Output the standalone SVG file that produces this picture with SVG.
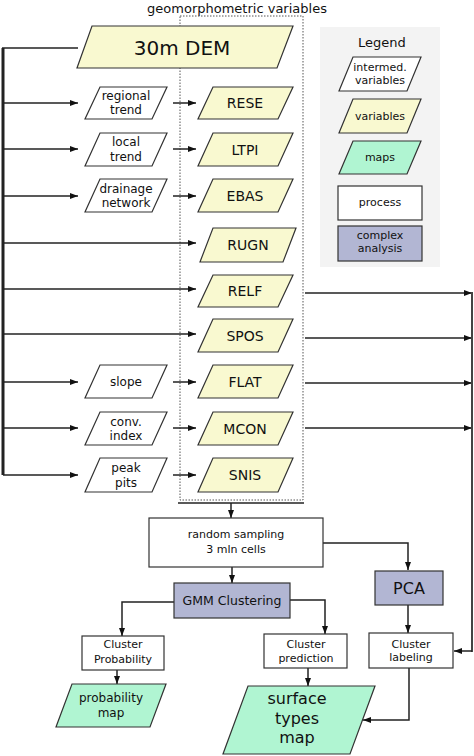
<svg xmlns="http://www.w3.org/2000/svg" width="474" height="756" viewBox="0 0 474 756">
<style>
text{font-family:"DejaVu Sans","Liberation Sans",sans-serif;fill:#111;text-anchor:middle}
.iv{fill:#fff;stroke:#333;stroke-width:1.2}
.v{fill:#f9f9d0;stroke:#333;stroke-width:1.2}
.m{fill:#b0f5d2;stroke:#333;stroke-width:1.2}
.p{fill:#fff;stroke:#333;stroke-width:1.2}
.c{fill:#b2b6d3;stroke:#333;stroke-width:1.2}
.ln{fill:none;stroke:#222;stroke-width:1.5}
.f12{font-size:12px}.f11{font-size:11px}.f14{font-size:14px}.f16{font-size:16px}
</style>
<defs>
<marker id="ah" markerWidth="8" markerHeight="6" refX="8" refY="3" orient="auto" markerUnits="userSpaceOnUse"><path d="M0,0 L8,3 L0,6 z" fill="#111"/></marker>
</defs>
<text x="237" y="13" style="font-size:13px">geomorphometric variables</text>
<rect id="group-box" x="180" y="16" width="123" height="484" fill="none" stroke="#555" stroke-width="1" stroke-dasharray="1.5,1.5"/>
<g id="legend">
<rect x="320" y="27" width="120" height="240" fill="#f3f3f3"/>
<text x="382" y="47" style="font-size:13px">Legend</text>
<polygon class="iv" points="353,57 421,57 407,91 339,91"/>
<text class="f11" x="380" y="71">intermed.</text><text class="f11" x="380" y="84">variables</text>
<polygon class="v" points="353,99 421,99 407,133 339,133"/>
<text class="f11" x="380" y="120">variables</text>
<polygon class="m" points="353,141 421,141 407,174 339,174"/>
<text class="f11" x="380" y="161">maps</text>
<rect class="p" x="338" y="186" width="84" height="34"/>
<text class="f11" x="380" y="206">process</text>
<rect class="c" x="338" y="226" width="84" height="35"/>
<text class="f11" x="380" y="239">complex</text><text class="f11" x="380" y="252">analysis</text>
</g>
<g id="connectors">
<path d="M3,48 V475" fill="none" stroke="#222" stroke-width="3"/>
<path class="ln" d="M2,48 H78"/>
<path class="ln" d="M3,103 H78" marker-end="url(#ah)"/>
<path class="ln" d="M3,149 H78" marker-end="url(#ah)"/>
<path class="ln" d="M3,196 H78" marker-end="url(#ah)"/>
<path class="ln" d="M3,243 H196" marker-end="url(#ah)"/>
<path class="ln" d="M3,289 H196" marker-end="url(#ah)"/>
<path class="ln" d="M3,334 H196" marker-end="url(#ah)"/>
<path class="ln" d="M3,382 H78" marker-end="url(#ah)"/>
<path class="ln" d="M3,428 H78" marker-end="url(#ah)"/>
<path class="ln" d="M3,475 H78" marker-end="url(#ah)"/>
<path class="ln" d="M173,103 H196" marker-end="url(#ah)"/>
<path class="ln" d="M173,149 H196" marker-end="url(#ah)"/>
<path class="ln" d="M173,196 H196" marker-end="url(#ah)"/>
<path class="ln" d="M173,382 H196" marker-end="url(#ah)"/>
<path class="ln" d="M173,428 H196" marker-end="url(#ah)"/>
<path class="ln" d="M173,475 H196" marker-end="url(#ah)"/>
<path class="ln" d="M305,293 H472" marker-end="url(#ah)"/>
<path class="ln" d="M305,338 H472" marker-end="url(#ah)"/>
<path class="ln" d="M305,383 H472" marker-end="url(#ah)"/>
<path class="ln" d="M305,428 H472" marker-end="url(#ah)"/>
<path d="M472,292 V652" fill="none" stroke="#444" stroke-width="2"/>
<path class="ln" d="M472,651 H454" marker-end="url(#ah)"/>
<path class="ln" d="M178,503 H304"/>
<path class="ln" d="M231,503 V518" marker-end="url(#ah)"/>
<path class="ln" d="M323,543 H408 V570" marker-end="url(#ah)"/>
<path class="ln" d="M232,567 V583" marker-end="url(#ah)"/>
<path class="ln" d="M174,602 H122 V636" marker-end="url(#ah)"/>
<path class="ln" d="M290,600 H325 V634" marker-end="url(#ah)"/>
<path class="ln" d="M117,670 V684" marker-end="url(#ah)"/>
<path class="ln" d="M308,668 V686" marker-end="url(#ah)"/>
<path class="ln" d="M408,605 V633" marker-end="url(#ah)"/>
<path class="ln" d="M409,668 V720 H363" marker-end="url(#ah)"/>
</g>
<g id="dem"><polygon class="v" points="92,26 293,26 277,68 77,68"/><text x="182" y="55" style="font-size:20px">30m DEM</text></g>
<g id="regional-trend"><polygon class="iv" points="100,87 167,87 152,119 85,119"/><text class="f12" x="126" y="100">regional</text><text class="f12" x="126" y="114">trend</text></g>
<g id="local-trend"><polygon class="iv" points="100,133 167,133 152,166 85,166"/><text class="f12" x="126" y="146">local</text><text class="f12" x="126" y="160.5">trend</text></g>
<g id="drainage-network"><polygon class="iv" points="100,179 167,179 152,212 85,212"/><text class="f12" x="126" y="192.5">drainage</text><text class="f12" x="126" y="207">network</text></g>
<g id="slope"><polygon class="iv" points="100,365 167,365 152,398 85,398"/><text class="f12" x="126" y="385.5">slope</text></g>
<g id="conv-index"><polygon class="iv" points="100,412 167,412 152,445 85,445"/><text class="f12" x="126" y="425.5">conv.</text><text class="f12" x="126" y="440">index</text></g>
<g id="peak-pits"><polygon class="iv" points="100,458 167,458 152,492 85,492"/><text class="f12" x="126" y="472">peak</text><text class="f12" x="126" y="486.5">pits</text></g>
<g id="rese"><polygon class="v" points="213,87 293,87 278,119 198,119"/><text class="f14" x="245" y="108">RESE</text></g>
<g id="ltpi"><polygon class="v" points="213,133 293,133 278,166 198,166"/><text class="f14" x="245" y="154.5">LTPI</text></g>
<g id="ebas"><polygon class="v" points="213,179 293,179 278,212 198,212"/><text class="f14" x="245" y="200.5">EBAS</text></g>
<g id="rugn"><polygon class="v" points="213,228 296,228 283,262 200,262"/><text class="f14" x="248" y="250">RUGN</text></g>
<g id="relf"><polygon class="v" points="213,275 293,275 278,307 198,307"/><text class="f14" x="245" y="296">RELF</text></g>
<g id="spos"><polygon class="v" points="213,319 293,319 278,352 198,352"/><text class="f14" x="245" y="340.5">SPOS</text></g>
<g id="flat"><polygon class="v" points="213,365 293,365 278,398 198,398"/><text class="f14" x="245" y="386.5">FLAT</text></g>
<g id="mcon"><polygon class="v" points="213,412 293,412 278,445 198,445"/><text class="f14" x="245" y="433.5">MCON</text></g>
<g id="snis"><polygon class="v" points="213,458 293,458 278,492 198,492"/><text class="f14" x="245" y="480">SNIS</text></g>
<g id="random-sampling"><rect class="p" x="149" y="518" width="174" height="49"/><text x="236" y="538" style="font-size:11px">random sampling</text><text x="236" y="553" style="font-size:11px">3 mln cells</text></g>
<g id="gmm"><rect class="c" x="174" y="583" width="116" height="35"/><text x="232" y="605" style="font-size:12.5px">GMM Clustering</text></g>
<g id="pca"><rect class="c" x="375" y="571" width="68" height="34"/><text class="f16" x="409" y="594">PCA</text></g>
<g id="cluster-probability"><rect class="p" x="82" y="636" width="82" height="34"/><text class="f11" x="123" y="648">Cluster</text><text class="f11" x="123" y="663">Probability</text></g>
<g id="cluster-prediction"><rect class="p" x="264" y="634" width="83" height="34"/><text class="f11" x="306" y="648">Cluster</text><text class="f11" x="306" y="662">prediction</text></g>
<g id="cluster-labeling"><rect class="p" x="369" y="633" width="84" height="35"/><text class="f11" x="411" y="648">Cluster</text><text class="f11" x="411" y="661">labeling</text></g>
<g id="probability-map"><polygon class="m" points="72,684 166,684 150,727 56,727"/><text class="f12" x="111" y="702">probability</text><text class="f12" x="111" y="717">map</text></g>
<g id="surface-types-map"><polygon class="m" points="248,686 375,686 350,754 223,754"/><text class="f16" x="297" y="704">surface</text><text class="f16" x="297" y="723.5">types</text><text class="f16" x="297" y="743">map</text></g>
</svg>
